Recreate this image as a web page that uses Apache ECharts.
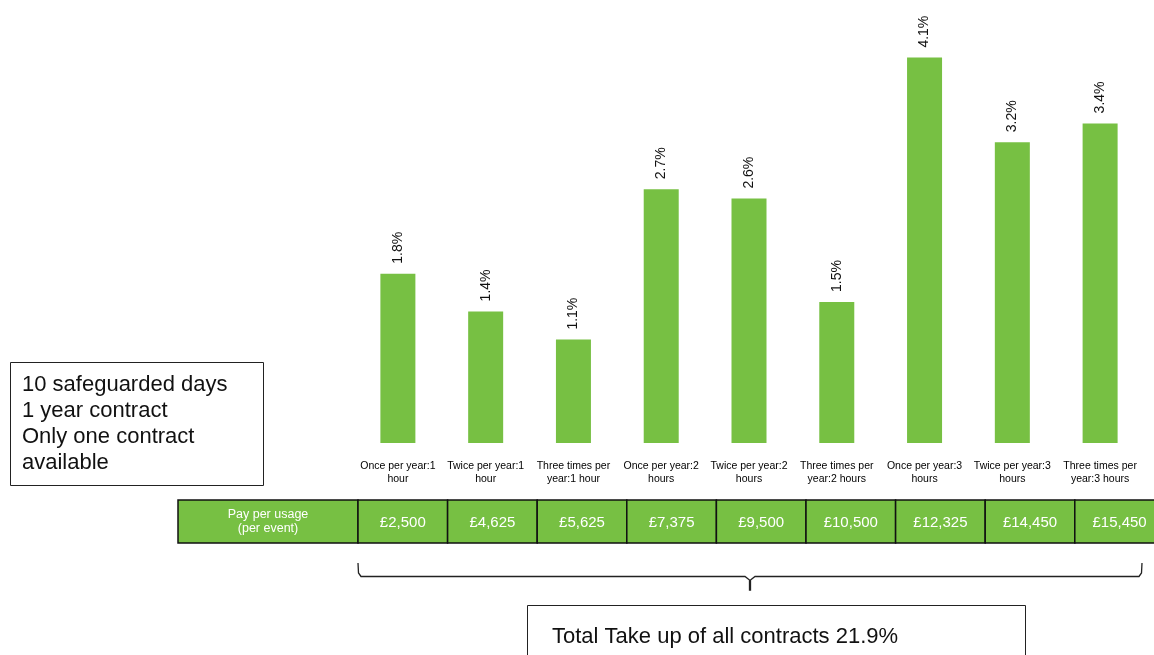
<!DOCTYPE html>
<html>
<head>
<meta charset="utf-8">
<title>Take up by contract option</title>
<script src="https://cdn.jsdelivr.net/npm/echarts@6/dist/echarts.min.js"></script>
<style>
  html, body { margin: 0; padding: 0; background: #fff; }
  #chart { width: 1154px; height: 655px; }
</style>
</head>
<body>
<div id="chart"></div>
<script>
// Contract options (usage frequency : duration)
const categories = [
  'Once per year:1\nhour', 'Twice per year:1\nhour', 'Three times per\nyear:1 hour',
  'Once per year:2\nhours', 'Twice per year:2\nhours', 'Three times per\nyear:2 hours',
  'Once per year:3\nhours', 'Twice per year:3\nhours', 'Three times per\nyear:3 hours'
];
// Take up (%) for each option
const takeUp = [1.8, 1.4, 1.1, 2.7, 2.6, 1.5, 4.1, 3.2, 3.4];
// Pay per usage (per event) for each option
const prices = ['£2,500', '£4,625', '£5,625', '£7,375', '£9,500', '£10,500', '£12,325', '£14,450', '£15,450'];
const priceHeader = 'Pay per usage\n(per event)';
const infoLines = ['10 safeguarded days', '1 year contract', 'Only one contract', 'available'];
const totalText = 'Total Take up of all contracts 21.9%';

const GREEN = '#77C043';
const FONT = '"Liberation Sans", Arial, Helvetica, sans-serif';

const chart = echarts.init(document.getElementById('chart'));

// Price table row below the category labels
const tableTop = 500, tableH = 43;
const headerX = 178, firstCellX = 358, cellW = 89.6;
const tableEls = [];
tableEls.push({
  type: 'rect',
  shape: { x: headerX, y: tableTop, width: firstCellX - headerX, height: tableH },
  style: { fill: GREEN, stroke: '#111', lineWidth: 1.5 }
});
tableEls.push({
  type: 'text',
  x: (headerX + firstCellX) / 2, y: tableTop + tableH / 2,
  style: {
    text: priceHeader, fill: '#fff', font: '12.5px ' + FONT,
    align: 'center', verticalAlign: 'middle', lineHeight: 14
  }
});
prices.forEach((p, i) => {
  const x = firstCellX + i * cellW;
  tableEls.push({
    type: 'rect',
    shape: { x: x, y: tableTop, width: cellW, height: tableH },
    style: { fill: GREEN, stroke: '#111', lineWidth: 1.5 }
  });
  tableEls.push({
    type: 'text',
    x: x + cellW / 2, y: tableTop + tableH / 2 + 1,
    style: {
      text: p, fill: '#fff', font: '15px ' + FONT,
      align: 'center', verticalAlign: 'middle'
    }
  });
});

// Brace spanning all options, pointing to the total
const braceEls = [{
  type: 'polyline',
  shape: {
    points: [
      [358, 563], [358.5, 573], [361, 576.5], [745, 576.5],
      [749.5, 580], [749.5, 590], [750.5, 590], [750.5, 580],
      [755, 576.5], [1139, 576.5], [1141.5, 573], [1142, 563]
    ]
  },
  style: { stroke: '#222', lineWidth: 1.3, fill: null }
}];

chart.setOption({
  animation: false,
  grid: { left: 354, right: 10, top: 20, bottom: 212 },
  xAxis: {
    type: 'category',
    data: categories,
    axisLine: { show: false },
    axisTick: { show: false },
    axisLabel: {
      interval: 0, margin: 17, color: '#000',
      fontFamily: FONT, fontSize: 10.5, lineHeight: 13
    }
  },
  yAxis: {
    type: 'value', min: 0, max: 4.5,
    show: false, splitLine: { show: false }
  },
  series: [{
    type: 'bar',
    data: takeUp,
    barWidth: 35,
    itemStyle: { color: GREEN },
    label: {
      show: true,
      position: 'top',
      distance: 10,
      rotate: 90,
      align: 'left',
      verticalAlign: 'middle',
      color: '#111',
      fontFamily: FONT,
      fontSize: 14,
      formatter: p => p.value.toFixed(1) + '%'
    }
  }],
  graphic: [
    // Contract terms box
    {
      type: 'rect',
      shape: { x: 10.5, y: 362.5, width: 253, height: 123 },
      style: { fill: '#fff', stroke: '#222', lineWidth: 1 }
    },
    {
      type: 'text',
      x: 22, y: 372,
      style: {
        text: infoLines.join('\n'), fill: '#111',
        font: '22px ' + FONT, lineHeight: 26
      }
    },
    ...tableEls,
    ...braceEls,
    // Total take up box
    {
      type: 'rect',
      shape: { x: 527.5, y: 605.5, width: 498, height: 70 },
      style: { fill: '#fff', stroke: '#222', lineWidth: 1 }
    },
    {
      type: 'text',
      x: 552, y: 637,
      style: {
        text: totalText, fill: '#111',
        font: '22px ' + FONT, verticalAlign: 'middle'
      }
    }
  ]
});
</script>
</body>
</html>
